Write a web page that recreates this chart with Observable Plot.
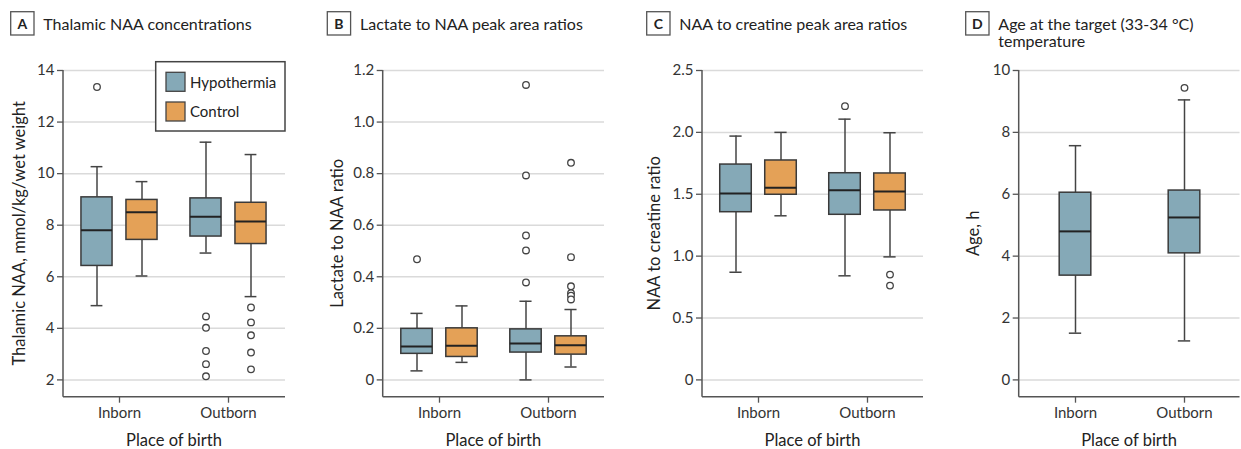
<!DOCTYPE html>
<html>
<head>
<meta charset="utf-8">
<script src="https://cdn.jsdelivr.net/npm/d3@7"></script>
<script src="https://cdn.jsdelivr.net/npm/@observablehq/plot@0.6"></script>
<style>
  body { margin: 0; background: #fff; }
  #fig { position: relative; width: 1241px; height: 449px; overflow: hidden; background: #fff; font-family: Lato, "Open Sans", sans-serif; }
  #fig svg { position: absolute; top: 0; }
  #overlay { left: 0; pointer-events: none; }
</style>
</head>
<body>
<div id="fig"></div>
<script>
// ---------------- data ----------------
const places = ["Inborn", "Outborn"];
const groups = ["Hypothermia", "Control"];
const groupColors = ["#85a9b7", "#e4a157"];

// five-number summaries: [lower whisker, Q1, median, Q3, upper whisker]
// A: thalamic NAA (mmol/kg wet weight)
const naaHypothermiaInborn  = [4.88, 6.42, 7.80, 9.08, 10.27];
const naaHypothermiaOutborn = [6.92, 7.56, 8.33, 9.04, 11.22];
const naaControlInborn      = [6.03, 7.43, 8.50, 8.98, 9.69];
const naaControlOutborn     = [5.23, 7.27, 8.14, 8.87, 10.74];
const naaOutHypothermiaInborn  = [13.36];
const naaOutHypothermiaOutborn = [4.46, 4.02, 3.12, 2.61, 2.14];
const naaOutControlInborn      = [];
const naaOutControlOutborn     = [4.81, 4.23, 3.73, 3.06, 2.41];

// B: lactate to NAA ratio
const lacHypothermiaInborn  = [0.035, 0.101, 0.130, 0.198, 0.258];
const lacHypothermiaOutborn = [0.000, 0.106, 0.141, 0.196, 0.305];
const lacControlInborn      = [0.068, 0.089, 0.132, 0.200, 0.287];
const lacControlOutborn     = [0.050, 0.098, 0.134, 0.169, 0.273];
const lacOutHypothermiaInborn  = [0.468];
const lacOutHypothermiaOutborn = [1.144, 0.793, 0.560, 0.502, 0.378];
const lacOutControlInborn      = [];
const lacOutControlOutborn     = [0.842, 0.476, 0.363, 0.336, 0.327, 0.312];

// C: NAA to creatine ratio
const crHypothermiaInborn  = [0.870, 1.355, 1.506, 1.740, 1.970];
const crHypothermiaOutborn = [0.841, 1.334, 1.533, 1.670, 2.107];
const crControlInborn      = [1.326, 1.496, 1.552, 1.773, 2.000];
const crControlOutborn     = [0.994, 1.369, 1.522, 1.668, 1.997];
const crOutHypothermiaInborn  = [];
const crOutHypothermiaOutborn = [2.212];
const crOutControlInborn      = [];
const crOutControlOutborn     = [0.851, 0.762];

// D: age at target temperature (h), hypothermia only
const ageHypothermiaInborn  = [1.51, 3.37, 4.80, 6.05, 7.57];
const ageHypothermiaOutborn = [1.26, 4.09, 5.25, 6.12, 9.05];
const ageOutHypothermiaInborn  = [];
const ageOutHypothermiaOutborn = [9.44];

// axis ticks and labels
const naaTicks = [2, 4, 6, 8, 10, 12, 14];
const naaTickLabels = ["2", "4", "6", "8", "10", "12", "14"];
const lacTicks = [0, 0.2, 0.4, 0.6, 0.8, 1.0, 1.2];
const lacTickLabels = ["0", "0.2", "0.4", "0.6", "0.8", "1.0", "1.2"];
const crTicks = [0, 0.5, 1.0, 1.5, 2.0, 2.5];
const crTickLabels = ["0", "0.5", "1.0", "1.5", "2.0", "2.5"];
const ageTicks = [0, 2, 4, 6, 8, 10];
const ageTickLabels = ["0", "2", "4", "6", "8", "10"];

const panelLetters = ["A", "B", "C", "D"];
const panelTitles = [
  ["Thalamic NAA concentrations"],
  ["Lactate to NAA peak area ratios"],
  ["NAA to creatine peak area ratios"],
  ["Age at the target (33-34 °C)", "temperature"]
];
const yLabels = ["Thalamic NAA, mmol/kg/wet weight", "Lactate to NAA ratio", "NAA to creatine ratio", "Age, h"];
const xLabel = "Place of birth";

// ---------------- layout ----------------
const H = 449, mT = 70, mB = 52.3, insetB = 17.3;
const FONT = "Lato, 'Open Sans', sans-serif";

const panels = [
  { left: 0,   width: 310, mL: 63,   mR: 25,  ticks: naaTicks, tickLabels: naaTickLabels, labelX: 19.5,
    series: [
      { group: 0, dx: -22.5, stats: [naaHypothermiaInborn, naaHypothermiaOutborn], out: [naaOutHypothermiaInborn, naaOutHypothermiaOutborn] },
      { group: 1, dx: 22.5,  stats: [naaControlInborn, naaControlOutborn], out: [naaOutControlInborn, naaOutControlOutborn] }
    ] },
  { left: 310, width: 310, mL: 72.7, mR: 16,  ticks: lacTicks, tickLabels: lacTickLabels, labelX: 27,
    series: [
      { group: 0, dx: -22.5, stats: [lacHypothermiaInborn, lacHypothermiaOutborn], out: [lacOutHypothermiaInborn, lacOutHypothermiaOutborn] },
      { group: 1, dx: 22.5,  stats: [lacControlInborn, lacControlOutborn], out: [lacOutControlInborn, lacOutControlOutborn] }
    ] },
  { left: 620, width: 310, mL: 82,   mR: 7,   ticks: crTicks, tickLabels: crTickLabels, labelX: 34.7,
    series: [
      { group: 0, dx: -22.5, stats: [crHypothermiaInborn, crHypothermiaOutborn], out: [crOutHypothermiaInborn, crOutHypothermiaOutborn] },
      { group: 1, dx: 22.5,  stats: [crControlInborn, crControlOutborn], out: [crOutControlInborn, crOutControlOutborn] }
    ] },
  { left: 930, width: 311, mL: 88.7, mR: 1.5, ticks: ageTicks, tickLabels: ageTickLabels, labelX: 43.5,
    series: [
      { group: 0, dx: 0, stats: [ageHypothermiaInborn, ageHypothermiaOutborn], out: [ageOutHypothermiaInborn, ageOutHypothermiaOutborn] }
    ] }
];

const fig = document.getElementById("fig");

panels.forEach((p, pi) => {
  const W = p.width - p.mL - p.mR;
  const padIn = 0.1, padOut = 0.06;
  const step = W / (places.length - padIn + 2 * padOut);
  const B = step * (1 - padIn);
  const boxW = 32, capW = 12.7;
  const boxInset = (B - boxW) / 2, capInset = (B - capW) / 2;

  const marks = [
    Plot.gridY(p.ticks, { stroke: "#dadada", strokeOpacity: 1, strokeWidth: 1.5 })
  ];

  p.series.forEach(s => {
    const rows = places.map((place, i) => ({
      place,
      lo: s.stats[i][0], q1: s.stats[i][1], med: s.stats[i][2], q3: s.stats[i][3], hi: s.stats[i][4]
    }));
    const outs = places.flatMap((place, i) => s.out[i].map(v => ({ place, v })));
    const col = groupColors[s.group];
    marks.push(
      Plot.ruleX(rows, { x: "place", y1: "lo", y2: "q1", dx: s.dx, stroke: "#444", strokeWidth: 1.5 }),
      Plot.ruleX(rows, { x: "place", y1: "q3", y2: "hi", dx: s.dx, stroke: "#444", strokeWidth: 1.5 }),
      Plot.tickY(rows, { x: "place", y: "lo", dx: s.dx, insetLeft: capInset, insetRight: capInset, stroke: "#444", strokeWidth: 1.5 }),
      Plot.tickY(rows, { x: "place", y: "hi", dx: s.dx, insetLeft: capInset, insetRight: capInset, stroke: "#444", strokeWidth: 1.5 }),
      Plot.barY(rows, { x: "place", y1: "q1", y2: "q3", dx: s.dx, insetLeft: boxInset, insetRight: boxInset, fill: col, stroke: "#3a3a3a", strokeWidth: 1.5 }),
      Plot.tickY(rows, { x: "place", y: "med", dx: s.dx, insetLeft: boxInset, insetRight: boxInset, stroke: "#222", strokeWidth: 2 }),
      Plot.dot(outs, { x: "place", y: "v", dx: s.dx, r: 3.3, fill: "#fff", stroke: "#444", strokeWidth: 1.3 })
    );
  });

  marks.push(
    Plot.axisY(p.ticks, { tickSize: 6, tickPadding: 3, tickFormat: d => p.tickLabels[p.ticks.indexOf(d)], label: null, stroke: "#555", strokeWidth: 1.3, fontSize: 15 }),
    Plot.axisX({ tickSize: 6, tickPadding: 4, label: null, stroke: "#555", strokeWidth: 1.3, fontSize: 15 })
  );

  const svg = Plot.plot({
    width: p.width,
    height: H,
    marginTop: mT,
    marginBottom: mB,
    marginLeft: p.mL,
    marginRight: p.mR,
    x: { type: "band", domain: places, paddingInner: padIn, paddingOuter: padOut },
    y: { domain: [p.ticks[0], p.ticks[p.ticks.length - 1]], insetBottom: insetB },
    style: { fontFamily: FONT, fontSize: "15px", color: "#333", background: "transparent", overflow: "visible" },
    marks
  });
  svg.style.left = p.left + "px";

  const g = d3.select(svg);
  const yBottom = H - mB;
  g.append("line").attr("x1", p.mL).attr("x2", p.mL).attr("y1", mT).attr("y2", yBottom)
    .attr("stroke", "#555").attr("stroke-width", 1.5);
  g.append("line").attr("x1", p.mL).attr("x2", p.width - p.mR).attr("y1", yBottom).attr("y2", yBottom)
    .attr("stroke", "#555").attr("stroke-width", 1.5);
  g.append("text")
    .attr("transform", `translate(${p.labelX},${(mT + yBottom) / 2}) rotate(-90)`)
    .attr("text-anchor", "middle").attr("dy", "0.35em")
    .attr("font-size", 16.5).attr("fill", "#222").text(yLabels[pi]);
  g.append("text")
    .attr("x", p.mL + W / 2).attr("y", 446).attr("text-anchor", "middle")
    .attr("font-size", 16.5).attr("fill", "#222").text(xLabel);

  fig.appendChild(svg);
});

// ---------------- titles and legend overlay ----------------
const ov = d3.select(fig).append("svg").attr("id", "overlay")
  .attr("width", 1241).attr("height", H).style("font-family", FONT);

const letterBoxX = [10.7, 327.3, 646.7, 965.7];
const titleX = [43.3, 360, 679.3, 998.3];
panelLetters.forEach((L, i) => {
  ov.append("rect").attr("x", letterBoxX[i]).attr("y", 11.7).attr("width", 23.3).attr("height", 23.3)
    .attr("fill", "#fff").attr("stroke", "#555").attr("stroke-width", 1.3);
  ov.append("text").attr("x", letterBoxX[i] + 11.65).attr("y", 28.8).attr("text-anchor", "middle")
    .attr("font-size", 14).attr("font-weight", "bold").attr("fill", "#222").text(L);
  const t = ov.append("text").attr("x", titleX[i]).attr("y", 29.5).attr("font-size", 16).attr("fill", "#222");
  panelTitles[i].forEach((line, j) => {
    t.append("tspan").attr("x", titleX[i]).attr("dy", j === 0 ? 0 : 17.2).text(line);
  });
});

// legend (panel A)
ov.append("rect").attr("x", 155.7).attr("y", 61.7).attr("width", 129.3).attr("height", 69.3)
  .attr("fill", "#fff").attr("stroke", "#444").attr("stroke-width", 1.5);
groups.forEach((gname, i) => {
  const y = 72.3 + i * 29.7;
  ov.append("rect").attr("x", 166).attr("y", y).attr("width", 19).attr("height", 19)
    .attr("fill", groupColors[i]).attr("stroke", "#444").attr("stroke-width", 1.3);
  ov.append("text").attr("x", 190).attr("y", y + 15.3).attr("font-size", 15).attr("fill", "#222").text(gname);
});
</script>
</body>
</html>
